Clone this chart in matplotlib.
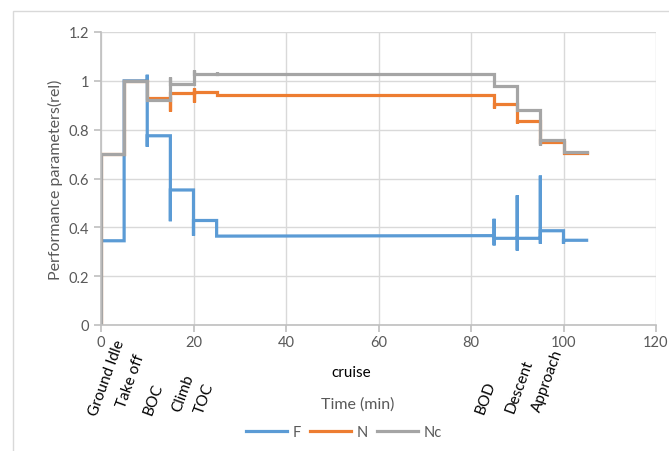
import matplotlib.pyplot as plt
import matplotlib.transforms as mtransforms
from matplotlib.patches import Rectangle

plt.rcParams['font.family'] = ['Lato', 'DejaVu Sans']

# flight phase step profiles (time in min, relative value), with transient spikes
t_F = [0, 0, 5, 5, 10, 10, 10, 10, 15, 15, 15, 20, 20, 20, 25, 25,
       85, 85, 85, 85, 90, 90, 90, 90, 95, 95, 95, 95, 100, 100, 100, 105]
F = [0, 0.345, 0.345, 1.0, 1.0, 1.025, 0.73, 0.775, 0.775, 0.425, 0.553, 0.553, 0.366, 0.428, 0.428, 0.364,
     0.366, 0.435, 0.326, 0.355, 0.355, 0.531, 0.305, 0.355, 0.355, 0.612, 0.333, 0.386, 0.386, 0.333, 0.347, 0.347]

t_N = [0, 0, 5, 5, 10, 10, 15, 15, 15, 20, 20, 20, 20, 25, 25,
       85, 85, 85, 90, 90, 90, 95, 95, 100, 100, 105]
N = [0, 0.70, 0.70, 1.0, 1.0, 0.928, 0.928, 0.877, 0.949, 0.949, 0.97, 0.912, 0.956, 0.956, 0.942,
     0.942, 0.89, 0.905, 0.905, 0.828, 0.837, 0.837, 0.75, 0.75, 0.705, 0.705]

t_Nc = [0, 0, 5, 5, 10, 10, 15, 15, 15, 20, 20, 20, 25, 25, 25,
        85, 85, 90, 90, 95, 95, 95, 100, 100, 105]
Nc = [0, 0.70, 0.70, 1.0, 1.0, 0.92, 0.92, 1.015, 0.987, 0.987, 1.046, 1.028, 1.028, 1.038, 1.028,
      1.028, 0.978, 0.978, 0.879, 0.879, 0.736, 0.758, 0.758, 0.707, 0.707]

phases = ['Ground Idle', 'Take off', 'BOC', 'Climb', 'TOC', 'BOD', 'Descent', 'Approach']
phase_x = [4.3, 8.4, 12.5, 19.2, 23.6, 84.5, 92.5, 99.0]
phase_y = [341, 355, 384, 375, 384, 382, 360, 350]  # pixel rows of label ends

W, H = 669, 452
fig = plt.figure(figsize=(W / 100, H / 100), dpi=100)
ax = fig.add_axes([101 / W, 1 - 326 / H, (656 - 101) / W, (326 - 33) / H])

fig.patches.append(Rectangle((13 / W, -0.01), 1.1, 1 - 12 / H + 0.01, transform=fig.transFigure,
                             fill=False, edgecolor='#D9D9D9', linewidth=1))

ax.plot(t_F, F, color='#5B9BD5', lw=2.3, label='F', solid_joinstyle='miter')
ax.plot(t_N, N, color='#ED7D31', lw=2.3, label='N', solid_joinstyle='miter')
ax.plot(t_Nc, Nc, color='#A5A5A5', lw=2.3, label='Nc', solid_joinstyle='miter')

ax.set_xlim(0, 120)
ax.set_ylim(0, 1.2)
ax.set_xticks(range(0, 121, 20))
ax.set_yticks([0, 0.2, 0.4, 0.6, 0.8, 1.0, 1.2])
ax.set_yticklabels(['0', '0.2', '0.4', '0.6', '0.8', '1', '1.2'])
ax.grid(True, color='#D9D9D9', lw=1)
ax.set_axisbelow(True)
for s in ['top', 'right']:
    ax.spines[s].set_visible(False)
for s in ['left', 'bottom']:
    ax.spines[s].set_color('#BFBFBF')
    ax.spines[s].set_linewidth(1.2)
ax.tick_params(axis='both', colors='#BFBFBF', labelcolor='#595959', labelsize=10.5, length=5, width=1.2)
ax.tick_params(axis='x', pad=2)
ax.set_ylabel('Performance parameters(rel)', color='#595959', fontsize=11.5, labelpad=4)

trans = mtransforms.blended_transform_factory(ax.transData, fig.transFigure)
for name, x, y in zip(phases, phase_x, phase_y):
    ax.text(x, 1 - y / H, name, transform=trans, rotation=70, rotation_mode='anchor',
            ha='right', va='center', fontsize=11, color='black')
ax.text(54, 1 - 373 / H, 'cruise', transform=trans, ha='center', va='center', fontsize=11)
ax.text(55.5, 1 - 405 / H, 'Time (min)', transform=trans, ha='center', va='center', fontsize=11.5,
        color='#595959')

leg = fig.legend(loc='center', bbox_to_anchor=(344 / W, 1 - 433 / H), ncol=3, frameon=False,
                 fontsize=10.5, handlelength=2.8, handletextpad=0.4, columnspacing=0.6)
for txt in leg.get_texts():
    txt.set_color('#595959')

fig.savefig('out.png', dpi=100)
